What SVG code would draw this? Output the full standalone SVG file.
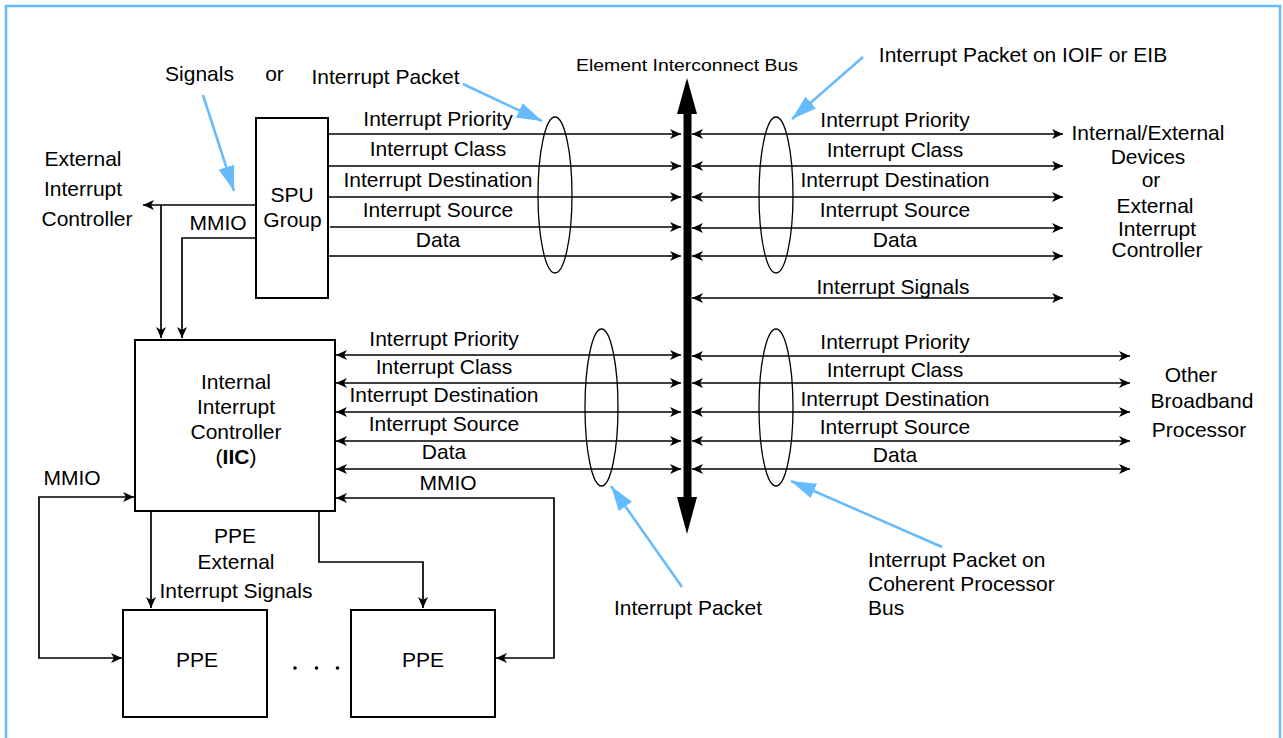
<svg xmlns="http://www.w3.org/2000/svg" width="1283" height="738" viewBox="0 0 1283 738">
<style>
  text { font-family: "Liberation Sans", Arial, sans-serif; font-size: 21px; fill: #000; }
  .c { text-anchor: middle; }
  .box { fill: #fff; stroke: #000; stroke-width: 2; }
  .ln { fill: none; stroke: #000; stroke-width: 1.7; }
  .one { marker-end: url(#ah); }
  .two { marker-start: url(#ah); marker-end: url(#ah); }
  .ell { fill: none; stroke: #000; stroke-width: 1.3; }
  .blue { fill: none; stroke: #66BBFF; stroke-width: 2.5; marker-end: url(#bh); }
  .frame { fill: none; stroke: #66BBFF; stroke-width: 2.5; }
</style>
<defs>
  <marker id="ah" markerUnits="userSpaceOnUse" markerWidth="12" markerHeight="10" refX="11" refY="5" orient="auto-start-reverse" viewBox="0 0 12 10">
    <path d="M0,0 L11,5 L0,10 L3,5 Z" fill="#000"/>
  </marker>
  <marker id="bh" markerUnits="userSpaceOnUse" markerWidth="26" markerHeight="18" refX="25" refY="9" orient="auto" viewBox="0 0 26 18">
    <path d="M0,1 L25,9 L0,17 Z" fill="#66BBFF"/>
  </marker>
</defs>

<rect width="1283" height="738" fill="#fff"/>
<path class="frame" d="M6,738 L6,6 L1280,6 L1280,738"/>

<g id="connectors">
  <line class="ln one" x1="328" y1="134" x2="681" y2="134"/>
  <line class="ln one" x1="328" y1="166" x2="681" y2="166"/>
  <line class="ln one" x1="328" y1="197" x2="681" y2="197"/>
  <line class="ln one" x1="330" y1="227" x2="681" y2="227"/>
  <line class="ln one" x1="328" y1="256" x2="681" y2="256"/>
  <line class="ln two" x1="692" y1="134" x2="1063" y2="134"/>
  <line class="ln two" x1="692" y1="166" x2="1063" y2="166"/>
  <line class="ln two" x1="692" y1="197" x2="1063" y2="197"/>
  <line class="ln two" x1="692" y1="228" x2="1063" y2="228"/>
  <line class="ln two" x1="692" y1="256" x2="1063" y2="256"/>
  <line class="ln two" x1="692" y1="298" x2="1063" y2="298"/>
  <line class="ln two" x1="336" y1="355" x2="681" y2="355"/>
  <line class="ln two" x1="336" y1="383" x2="681" y2="383"/>
  <line class="ln two" x1="336" y1="412" x2="681" y2="412"/>
  <line class="ln two" x1="336" y1="441" x2="681" y2="441"/>
  <line class="ln two" x1="336" y1="469" x2="681" y2="469"/>
  <line class="ln two" x1="692" y1="356" x2="1130" y2="356"/>
  <line class="ln two" x1="692" y1="383" x2="1130" y2="383"/>
  <line class="ln two" x1="692" y1="412" x2="1130" y2="412"/>
  <line class="ln two" x1="692" y1="441" x2="1130" y2="441"/>
  <line class="ln two" x1="692" y1="469" x2="1130" y2="469"/>
  <path class="ln one" d="M257,205 L143,205"/>
  <path class="ln one" d="M161,205 L161,338"/>
  <path class="ln one" d="M256,238 L182,238 L182,338"/>
  <path class="ln two" d="M336,498 L554,498 L554,658 L496,658"/>
  <path class="ln two" d="M134,497 L39,497 L39,658 L122,658"/>
  <path class="ln one" d="M151,511 L151,608"/>
  <path class="ln one" d="M319,511 L319,562 L423,562 L423,608"/>
  <ellipse class="ell" cx="555" cy="195" rx="17" ry="78"/>
  <ellipse class="ell" cx="776" cy="195" rx="17" ry="78"/>
  <ellipse class="ell" cx="601.5" cy="407.5" rx="16.5" ry="78.5"/>
  <ellipse class="ell" cx="776" cy="407.5" rx="17" ry="78.5"/>
  <line class="blue" x1="203" y1="95" x2="234" y2="191"/>
  <line class="blue" x1="463" y1="84" x2="542" y2="121"/>
  <line class="blue" x1="863" y1="57" x2="792" y2="119"/>
  <line class="blue" x1="682" y1="587" x2="611" y2="486"/>
  <line class="blue" x1="942" y1="547" x2="791" y2="481"/>
</g>

<g id="eib">
  <line x1="687.5" y1="110" x2="687.5" y2="500" stroke="#000" stroke-width="8"/>
  <path d="M687,78 L697,114 L677,114 Z" fill="#000"/>
  <path d="M687,534 L697,497 L677,497 Z" fill="#000"/>
  <text class="c" x="687" y="71" style="font-size:17px" textLength="222" lengthAdjust="spacingAndGlyphs">Element Interconnect Bus</text>
</g>

<g id="spu-group">
  <rect class="box" x="256" y="118" width="72" height="180"/>
  <text class="c" x="292" y="202">SPU</text>
  <text class="c" x="292.5" y="227">Group</text>
</g>

<g id="iic">
  <rect class="box" x="135" y="340" width="200" height="171"/>
  <text class="c" x="236" y="389">Internal</text>
  <text class="c" x="236" y="414">Interrupt</text>
  <text class="c" x="236" y="439">Controller</text>
  <text class="c" x="236" y="464">(<tspan font-weight="bold">IIC</tspan>)</text>
</g>

<g id="ppe1">
  <rect class="box" x="123" y="610" width="144" height="107"/>
  <text class="c" x="197" y="667">PPE</text>
</g>
<g id="ppe2">
  <rect class="box" x="351" y="610" width="144" height="107"/>
  <text class="c" x="423" y="667">PPE</text>
</g>
<g id="ellipsis">
  <circle cx="295" cy="668" r="1.8" fill="#000"/>
  <circle cx="316.5" cy="668" r="1.8" fill="#000"/>
  <circle cx="337.5" cy="668" r="1.8" fill="#000"/>
</g>

<g id="external-interrupt-controller">
  <text class="c" x="83" y="166">External</text>
  <text class="c" x="83" y="196">Interrupt</text>
  <text class="c" x="87" y="226">Controller</text>
</g>

<g id="external-devices">
  <text class="c" x="1148" y="140">Internal/External</text>
  <text class="c" x="1148" y="164">Devices</text>
  <text class="c" x="1151" y="187">or</text>
  <text class="c" x="1155" y="213">External</text>
  <text class="c" x="1157" y="236">Interrupt</text>
  <text class="c" x="1157" y="257">Controller</text>
</g>

<g id="other-be">
  <text class="c" x="1191" y="382">Other</text>
  <text class="c" x="1202" y="408">Broadband</text>
  <text class="c" x="1199" y="437">Processor</text>
</g>

<g id="labels">
  <text class="c" x="199.5" y="81">Signals</text>
  <text class="c" x="274.5" y="81">or</text>
  <text class="c" x="385.5" y="84">Interrupt Packet</text>
  <text class="c" x="1023" y="62">Interrupt Packet on IOIF or EIB</text>
  <text class="c" x="218" y="230">MMIO</text>

  <text class="c" x="438" y="126">Interrupt Priority</text>
  <text class="c" x="438" y="156">Interrupt Class</text>
  <text class="c" x="438" y="187">Interrupt Destination</text>
  <text class="c" x="438" y="217">Interrupt Source</text>
  <text class="c" x="438" y="247">Data</text>

  <text class="c" x="895" y="127">Interrupt Priority</text>
  <text class="c" x="895" y="157">Interrupt Class</text>
  <text class="c" x="895" y="187">Interrupt Destination</text>
  <text class="c" x="895" y="217">Interrupt Source</text>
  <text class="c" x="895" y="247">Data</text>
  <text class="c" x="893" y="294">Interrupt Signals</text>

  <text class="c" x="444" y="346">Interrupt Priority</text>
  <text class="c" x="444" y="374">Interrupt Class</text>
  <text class="c" x="444" y="402">Interrupt Destination</text>
  <text class="c" x="444" y="431">Interrupt Source</text>
  <text class="c" x="444" y="459">Data</text>
  <text class="c" x="448" y="490">MMIO</text>

  <text class="c" x="895" y="349">Interrupt Priority</text>
  <text class="c" x="895" y="377">Interrupt Class</text>
  <text class="c" x="895" y="406">Interrupt Destination</text>
  <text class="c" x="895" y="434">Interrupt Source</text>
  <text class="c" x="895" y="462">Data</text>

  <text class="c" x="72" y="485">MMIO</text>
  <text class="c" x="235" y="543">PPE</text>
  <text class="c" x="236" y="569">External</text>
  <text class="c" x="236" y="598">Interrupt Signals</text>

  <text class="c" x="688" y="615">Interrupt Packet</text>
  <text x="868" y="567">Interrupt Packet on</text>
  <text x="868" y="591">Coherent Processor</text>
  <text x="868" y="615">Bus</text>
</g>
</svg>
